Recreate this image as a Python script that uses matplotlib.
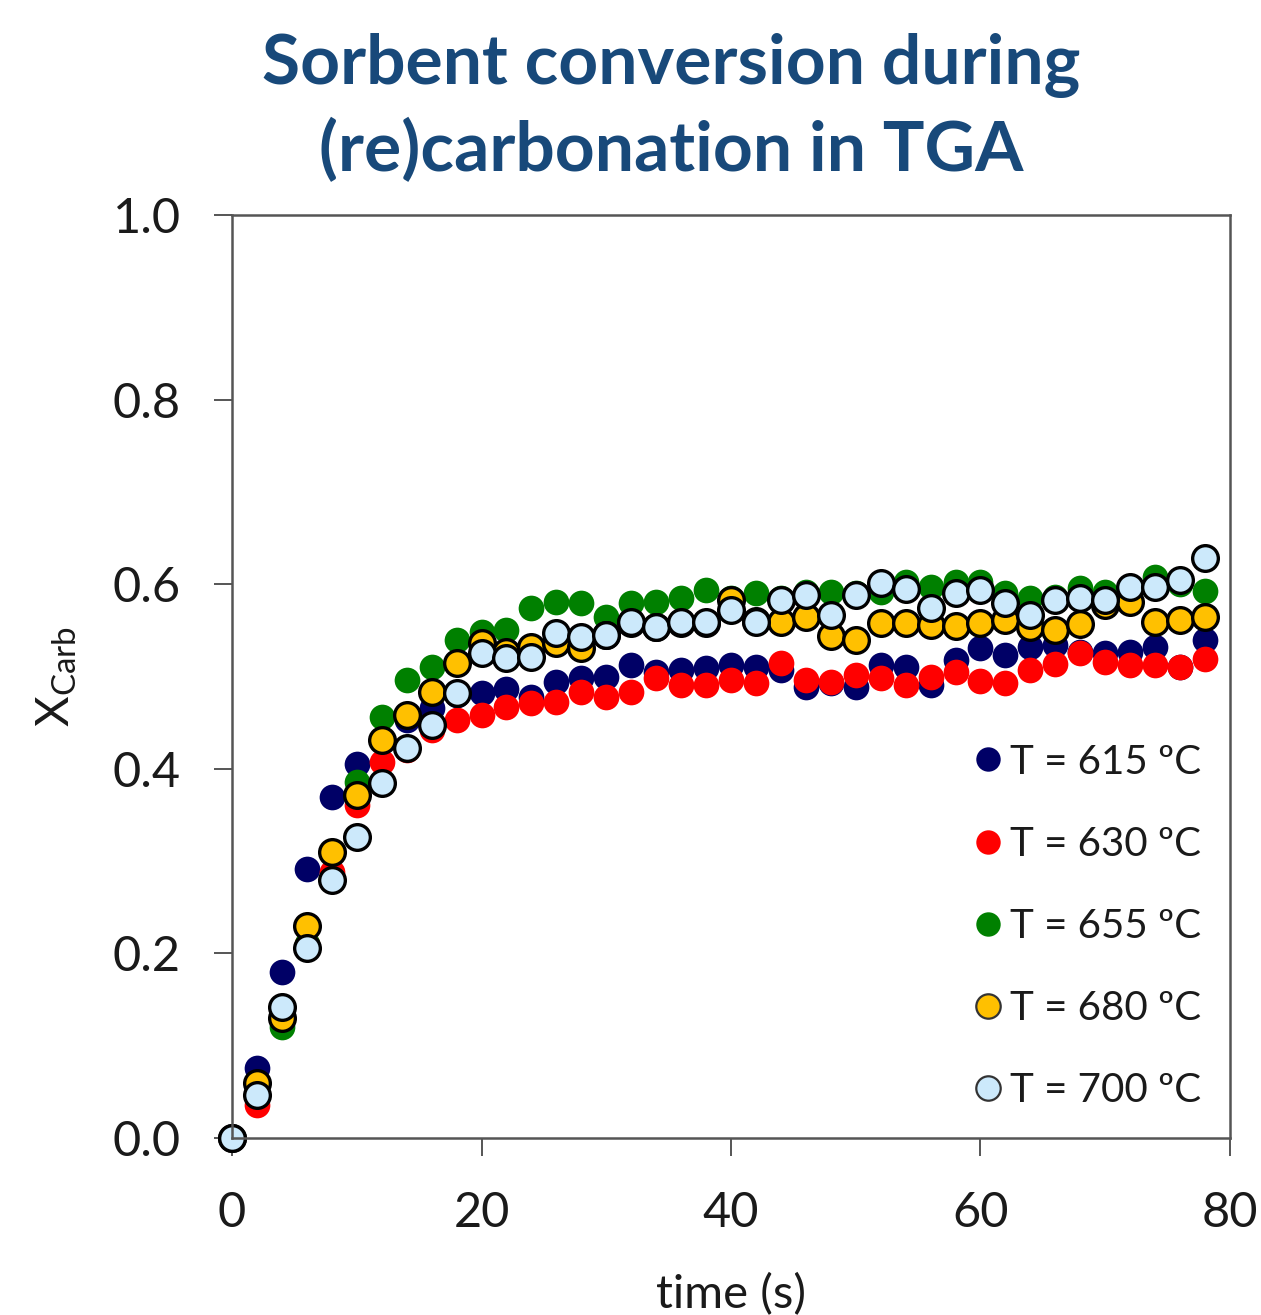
import matplotlib.pyplot as plt

# Time (s) and sorbent conversion.
time = list(range(0, 80, 2))

x_615 = [0, 0.076, 0.18, 0.291, 0.369, 0.405, 0.43, 0.453, 0.466, 0.48,
         0.482, 0.486, 0.478, 0.494, 0.498, 0.5, 0.512, 0.505, 0.507, 0.509,
         0.512, 0.51, 0.507, 0.489, 0.493, 0.489, 0.512, 0.51, 0.491, 0.518,
         0.531, 0.523, 0.532, 0.534, 0.527, 0.525, 0.527, 0.532, 0.51, 0.54]
x_630 = [0, 0.036, 0.13, 0.21, 0.288, 0.361, 0.407, 0.42, 0.442, 0.453,
         0.458, 0.467, 0.471, 0.472, 0.483, 0.478, 0.483, 0.498, 0.491, 0.491,
         0.496, 0.493, 0.515, 0.496, 0.494, 0.502, 0.498, 0.491, 0.5, 0.505,
         0.495, 0.493, 0.507, 0.514, 0.526, 0.516, 0.512, 0.512, 0.51, 0.519]
x_655 = [0, 0.05, 0.12, 0.21, 0.31, 0.386, 0.456, 0.496, 0.51, 0.54,
         0.548, 0.55, 0.574, 0.581, 0.58, 0.565, 0.58, 0.581, 0.585, 0.594,
         0.585, 0.59, 0.585, 0.592, 0.592, 0.59, 0.592, 0.602, 0.597, 0.602,
         0.602, 0.59, 0.585, 0.586, 0.596, 0.592, 0.59, 0.608, 0.6, 0.593]
x_680 = [0, 0.06, 0.13, 0.23, 0.31, 0.372, 0.431, 0.458, 0.483, 0.515,
         0.536, 0.527, 0.532, 0.536, 0.531, 0.545, 0.558, 0.554, 0.558, 0.558,
         0.583, 0.56, 0.559, 0.565, 0.544, 0.54, 0.558, 0.558, 0.556, 0.555,
         0.558, 0.561, 0.554, 0.55, 0.557, 0.578, 0.581, 0.559, 0.561, 0.564]
x_700 = [0, 0.047, 0.142, 0.206, 0.28, 0.326, 0.385, 0.423, 0.447, 0.482,
         0.525, 0.52, 0.521, 0.547, 0.543, 0.545, 0.559, 0.554, 0.559, 0.559,
         0.572, 0.559, 0.583, 0.588, 0.567, 0.588, 0.601, 0.595, 0.574, 0.59,
         0.594, 0.58, 0.567, 0.583, 0.585, 0.583, 0.597, 0.597, 0.605, 0.628]

labels = ["T = 615 ºC", "T = 630 ºC", "T = 655 ºC", "T = 680 ºC", "T = 700 ºC"]
series = [x_615, x_630, x_655, x_680, x_700]
colors = ["#000066", "#FF0000", "#008000", "#FFC000", "#CCE9FB"]
edges = [None, None, None, "black", "black"]

plt.rcParams["font.family"] = ["Lato", "DejaVu Sans"]

fig = plt.figure(figsize=(12.61, 13.15), dpi=100)
ax = fig.add_axes([0.184, 0.1346, 0.7914, 0.7019])

for y, c, e, lab in zip(series, colors, edges, labels):
    ax.plot(time, y, ls="none", marker="o", ms=18.5, mfc=c,
            mec=e if e else c, mew=2.4 if e else 0, label=lab,
            clip_on=False)

ax.set_xlim(0, 80)
ax.set_ylim(0, 1.0)
ax.set_xticks([0, 20, 40, 60, 80])
ax.set_yticks([0, 0.2, 0.4, 0.6, 0.8, 1.0])
ax.set_yticklabels(["0.0", "0.2", "0.4", "0.6", "0.8", "1.0"])
ax.tick_params(labelsize=35, length=13, width=1.4, color="#555555",
               labelcolor="#1a1a1a")
ax.tick_params(axis="x", pad=25)
ax.tick_params(axis="y", pad=24)
for s in ax.spines.values():
    s.set_color("#555555")
    s.set_linewidth(1.8)

ax.set_xlabel("time (s)", fontsize=34, color="#1a1a1a", labelpad=28)
ax.set_ylabel(r"X$_{\mathregular{Carb}}$", fontsize=34, color="#1a1a1a",
              labelpad=24)

fig.suptitle("Sorbent conversion during\n(re)carbonation in TGA",
             fontsize=50, fontweight="bold", color="#18497A",
             x=0.532, y=0.975, linespacing=1.38)

leg = ax.legend(loc="lower right", bbox_to_anchor=(1.0, 0.0), frameon=False,
                fontsize=29, labelspacing=1.12, handletextpad=-0.25,
                handlelength=1.6, markerscale=0.95, borderaxespad=0.32,
                labelcolor="#1a1a1a")
for h in leg.legend_handles:
    h.set_markeredgewidth(1.6 if h.get_markeredgewidth() else 0)
    if h.get_markeredgewidth():
        h.set_markeredgecolor("#333333")

fig.savefig("out.png", dpi=100)
